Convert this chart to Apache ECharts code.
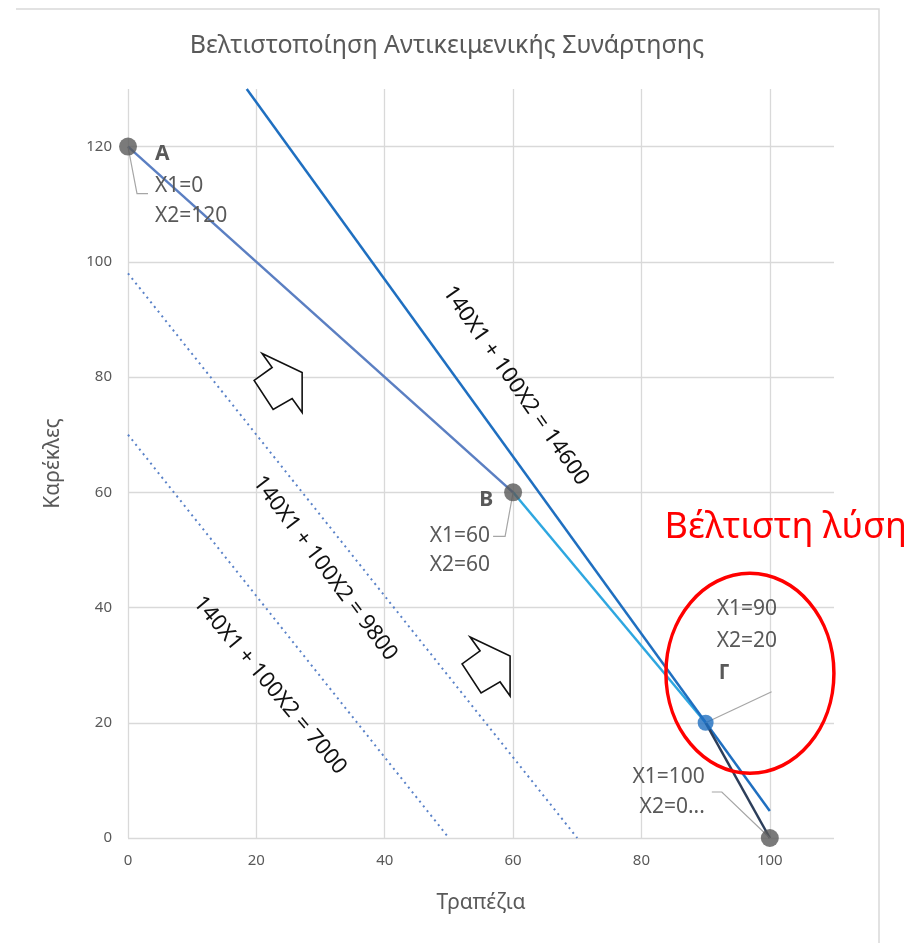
<!DOCTYPE html>
<html>
<head>
<meta charset="utf-8">
<script src="https://cdn.jsdelivr.net/npm/echarts@6/dist/echarts.min.js"></script>
<style>
html, body { margin: 0; padding: 0; background: #fff; }
#chart { width: 914px; height: 943px; }
</style>
</head>
<body>
<div id="chart"></div>
<script>
// κορυφές της εφικτής περιοχής
const cornerNames = ['A', 'B', 'Γ', '']
const cornerX1 = [0, 60, 90, 100]
const cornerX2 = [120, 60, 20, 0]
const cornerLines = [['X1=0', 'X2=120'], ['X1=60', 'X2=60'], ['X1=90', 'X2=20'], ['X1=100', 'X2=0...']]

// τμήματα των περιορισμών
const edgeABX = [0, 60], edgeABY = [120, 60]
const edgeBGX = [60, 90], edgeBGY = [60, 20]
const edgeGDX = [90, 100], edgeGDY = [20, 0]

// ευθείες ίσου κέρδους
const isoNames = ['140X1 + 100X2 = 7000', '140X1 + 100X2 = 9800', '140X1 + 100X2 = 14600']
const iso7000X = [0, 50], iso7000Y = [70, 0]
const iso9800X = [0, 70], iso9800Y = [98, 0]
const iso14600X = [18.5, 100], iso14600Y = [130, 4.7]

const pairs = (xs, ys) => xs.map((x, i) => [x, ys[i]])
const FONT = '"Noto Sans", "Open Sans", sans-serif'
const GREY = '#595959'

const chart = echarts.init(document.getElementById('chart'))

function lineSeries(name, xs, ys, color, extra) {
  return Object.assign({
    name, type: 'line', data: pairs(xs, ys), symbol: 'none', silent: true,
    lineStyle: { color, width: 2.5 }, z: 3,
  }, extra || {})
}

chart.setOption({
  animation: false,
  title: {
    text: 'Βελτιστοποίηση Αντικειμενικής Συνάρτησης',
    left: 442, top: 28, textAlign: 'center',
    textStyle: { fontFamily: FONT, fontSize: 25, fontWeight: 'normal', color: GREY },
  },
  grid: { left: 128, right: 80, top: 89, bottom: 105 },
  xAxis: {
    type: 'value', min: 0, max: 110, interval: 20,
    name: 'Τραπέζια', nameLocation: 'center', nameGap: 55,
    nameTextStyle: { fontFamily: FONT, fontSize: 21, color: GREY },
    axisLine: { show: false }, axisTick: { show: false },
    axisLabel: { fontFamily: FONT, fontSize: 15, color: GREY, margin: 15, showMaxLabel: false },
    splitLine: { show: true, showMaxLine: false, lineStyle: { color: '#d9d9d9', width: 1.3 } },
  },
  yAxis: {
    type: 'value', min: 0, max: 130, interval: 20,
    name: 'Καρέκλες', nameLocation: 'center', nameGap: 64, nameRotate: 90,
    nameTextStyle: { fontFamily: FONT, fontSize: 21, color: GREY },
    axisLine: { show: false }, axisTick: { show: false },
    axisLabel: { fontFamily: FONT, fontSize: 15, color: GREY, margin: 16, showMaxLabel: false },
    splitLine: { show: true, showMaxLine: false, lineStyle: { color: '#d9d9d9', width: 1.3 } },
  },
  series: [
    lineSeries(isoNames[0], iso7000X, iso7000Y, '#4472c4', { lineStyle: { color: '#5a82c8', width: 2, type: [2, 4] } }),
    lineSeries(isoNames[1], iso9800X, iso9800Y, '#4472c4', { lineStyle: { color: '#5a82c8', width: 2, type: [2, 4] } }),
    lineSeries('AB', edgeABX, edgeABY, '#5b7fc2'),
    lineSeries('BΓ', edgeBGX, edgeBGY, '#2ea7e0'),
    lineSeries(isoNames[2], iso14600X, iso14600Y, '#1f6fc0'),
    lineSeries('ΓΔ', edgeGDX, edgeGDY, '#2c3e5a', { z: 4 }),
    {
      type: 'scatter', silent: true, z: 6,
      data: cornerX1.map((x, i) => ({
        value: [x, cornerX2[i]],
        symbolSize: i === 2 ? 16 : 18,
        itemStyle: { color: i === 2 ? '#1f6fc0' : '#595959' },
      })),
    },
  ],
})

const px = (x, y) => chart.convertToPixel({ gridIndex: 0 }, [x, y])
const gfx = []

// ετικέτες κορυφών: [όνομα dx, dy], [γραμμές dx, dy0, βήμα], ευθυγράμμιση, οδηγός
const cornerLayout = [
  { name: [27, 7], text: [27, 39, 30], align: 'left', leader: [[9, 47], [20, 47]] },
  { name: [-20, 8], text: [-23, 44, 29], align: 'right', leader: [[-8, 44], [-20, 44]] },
  { name: [13, -50], text: [11, -114, 32], align: 'left', leader: [[66, -31]] },
  { name: [0, 0], text: [-65, -61, 30], align: 'right', leader: [[-48, -46], [-58, -46]] },
]

cornerX1.forEach((x, i) => {
  const [cx, cy] = px(x, cornerX2[i])
  const L = cornerLayout[i]
  gfx.push({
    type: 'polyline', silent: true, z: 5,
    shape: { points: [[cx, cy], ...L.leader.map(([dx, dy]) => [cx + dx, cy + dy])] },
    style: { stroke: '#a6a6a6', lineWidth: 1.2, fill: null },
  })
  if (cornerNames[i]) {
    gfx.push({
      type: 'text', silent: true, z: 7, x: cx + L.name[0], y: cy + L.name[1],
      style: { text: cornerNames[i], font: `bold 21px ${FONT}`, fill: GREY, align: L.align, verticalAlign: 'middle' },
    })
  }
  cornerLines[i].forEach((t, k) => {
    gfx.push({
      type: 'text', silent: true, z: 7, x: cx + L.text[0], y: cy + L.text[1] + k * L.text[2],
      style: { text: t, font: `21px ${FONT}`, fill: GREY, align: L.align, verticalAlign: 'middle' },
    })
  })
})

// περιστραμμένες ετικέτες των ευθειών ίσου κέρδους
const isoAnchors = [[22.1, 26.5, 50], [30.7, 46.8, 53], [60.4, 78.5, 55]]
isoNames.forEach((t, i) => {
  const [ax, ay, deg] = isoAnchors[i]
  const [x, y] = px(ax, ay)
  gfx.push({
    type: 'text', silent: true, z: 7, x, y, rotation: -deg * Math.PI / 180,
    style: { text: t, font: `22px ${FONT}`, fill: '#111', align: 'center', verticalAlign: 'middle' },
  })
})

// κοίλα βέλη κατεύθυνσης βελτίωσης
const arrowShape = [[0, 0], [40, 19], [40, 59], [30, 45], [11, 56], [-8, 27], [10, 14]]
;[[20.9, 84.1], [53.3, 34.9]].forEach(([ax, ay]) => {
  const [x, y] = px(ax, ay)
  gfx.push({
    type: 'polygon', silent: true, z: 7,
    shape: { points: arrowShape.map(([dx, dy]) => [x + dx, y + dy]) },
    style: { fill: '#fff', stroke: '#111', lineWidth: 1.6 },
  })
})

// βέλτιστη λύση
const [ex, ey] = px(96.9, 28.6)
gfx.push({
  type: 'ellipse', silent: true, z: 8,
  shape: { cx: ex, cy: ey, rx: 84, ry: 100 },
  style: { fill: null, stroke: '#ff0000', lineWidth: 3.5 },
})
const [tx, ty] = px(83.6, 53.9)
gfx.push({
  type: 'text', silent: true, z: 8, x: tx, y: ty,
  style: { text: 'Βέλτιστη λύση', font: `36px ${FONT}`, fill: '#ff0000', align: 'left', verticalAlign: 'middle' },
})

// πλαίσιο περιοχής γραφήματος
gfx.push({
  type: 'polyline', silent: true, z: 1,
  shape: { points: [[16, 9], [879, 9], [879, 943]] },
  style: { stroke: '#d9d9d9', lineWidth: 1.5, fill: null },
})

chart.setOption({ graphic: gfx })
</script>
</body>
</html>
